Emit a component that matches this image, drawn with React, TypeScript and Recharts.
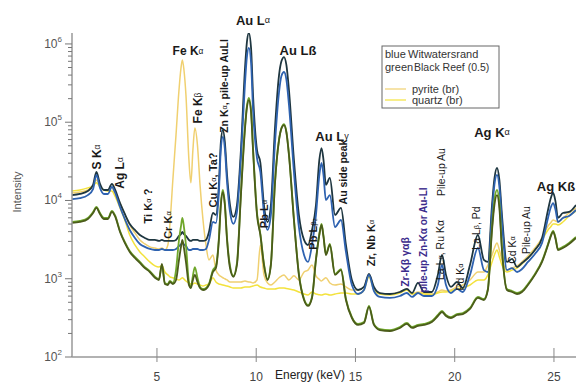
import { LineChart, Line, XAxis, YAxis } from 'recharts'

// energy (keV) sampled by hand along the spectra
const energy = [
  0.72, 1.12, 1.52, 1.78, 1.95, 2.13, 2.33, 2.53, 2.73, 2.88,
  3.14, 3.38, 3.63, 3.89, 4.14, 4.39, 4.64, 4.9, 5.1, 5.25,
  5.4, 5.55, 5.65, 5.8, 5.96, 6.11, 6.21, 6.28, 6.36, 6.46,
  6.61, 6.71, 6.81, 6.91, 7.04, 7.17, 7.32, 7.47, 7.62, 7.82,
  7.97, 8.12, 8.22, 8.32, 8.42, 8.53, 8.68, 8.85, 9.03, 9.23,
  9.43, 9.53, 9.63, 9.74, 9.84, 10.04, 10.21, 10.39, 10.57, 10.74,
  10.94, 11.15, 11.27, 11.4, 11.52, 11.65, 11.9, 12.15, 12.41, 12.61,
  12.81, 13.01, 13.18, 13.29, 13.39, 13.51, 13.71, 13.97, 14.27, 14.52,
  14.82, 15.13, 15.43, 15.68, 15.93, 16.23, 16.74, 17.24, 17.59, 17.85,
  18.15, 18.45, 18.85, 19.15, 19.36, 19.56, 19.81, 20.11, 20.41, 20.77,
  21.17, 21.47, 21.67, 21.88, 22.0, 22.13, 22.25, 22.38, 22.63, 22.89,
  23.14, 23.39, 23.69, 24.04, 24.4, 24.7, 24.83, 24.96, 25.08, 25.2,
  25.45, 25.76, 26.11,
]

// Witwatersrand (dark trace)
const witsDark = [
  11700, 12100, 13200, 15800, 23100, 16300, 13600, 13600, 16300, 14000,
  9250, 6720, 5010, 4200, 3620, 3320, 3130, 3130, 3040, 3130,
  3040, 3040, 3040, 3040, 3130, 3520, 3700, 3960, 3700, 3520,
  3130, 3040, 3130, 3130, 3130, 3040, 3040, 3130, 3960, 6920,
  6530, 15800, 56000, 79600, 56000, 21200, 8750, 6160, 8750, 44000,
  465000, 1050000, 1380000, 890000, 223000, 44000, 30200, 8750, 5310, 8750,
  79600, 400000, 600000, 680000, 540000, 258000, 33000, 6530, 3130, 2700,
  4200, 8750, 33000, 46700, 33000, 15800, 19400, 6530, 8020, 2700,
  964, 718, 785, 1150, 785, 657, 638, 677, 740, 657,
  883, 677, 677, 1120, 2010, 1120, 785, 909, 762, 1500,
  3620, 1740, 1640, 8750, 19000, 26000, 18300, 6530, 1640, 1790,
  1410, 1590, 1840, 2330, 3320, 7560, 10500, 12500, 9600, 5980,
  6920, 7130, 8750,
]

// Witwatersrand (blue trace)
const witsBlue = [
  10400, 10700, 11700, 14000, 21200, 14500, 12100, 12100, 14900, 12800,
  8250, 5800, 4200, 3320, 2780, 2550, 2400, 2330, 2330, 2400,
  2330, 2330, 2330, 2330, 2400, 2620, 2750, 2870, 2750, 2620,
  2330, 2330, 2400, 2400, 2400, 2330, 2330, 2400, 3130, 5310,
  5160, 12800, 46000, 65100, 46000, 17300, 7130, 5010, 7130, 34800,
  299000, 680000, 889000, 580000, 143000, 34800, 23100, 6920, 4200, 6530,
  51000, 243000, 390000, 438000, 350000, 166000, 23100, 4580, 2010, 1640,
  2700, 6530, 21000, 30200, 21000, 10100, 11700, 4580, 5630, 2200,
  832, 638, 718, 1120, 697, 585, 568, 602, 657, 585,
  657, 602, 602, 832, 1500, 832, 657, 740, 677, 1120,
  2470, 1290, 1220, 7130, 15800, 21200, 14900, 5310, 1290, 1370,
  1220, 1330, 1640, 2070, 2870, 5980, 8000, 9250, 7560, 5310,
  5980, 6340, 7560,
]

// Black Reef (0.5), dark olive trace
const reefOlive = [
  5160, 5310, 5800, 6920, 8020, 6720, 5800, 5800, 7130, 6340,
  3960, 2870, 2200, 1840, 1590, 1370, 1220, 1030, 964, 1550,
  857, 832, 909, 857, 964, 1740, 2550, 3130, 2470, 1640,
  832, 762, 964, 1120, 909, 762, 718, 740, 832, 1220,
  1370, 3130, 8750, 12800, 8750, 3130, 1370, 1060, 1500, 11700,
  79600, 152000, 192000, 134000, 44000, 6530, 3620, 1500, 964, 1500,
  15800, 59000, 83000, 92000, 74000, 38000, 5630, 1120, 535, 449,
  568, 1740, 3620, 4860, 3420, 2010, 2700, 1120, 1290, 535,
  315, 257, 272, 436, 257, 221, 215, 235, 265, 235,
  250, 257, 280, 334, 376, 334, 315, 344, 354, 411,
  568, 535, 718, 4200, 8750, 11700, 8000, 2330, 718, 677,
  638, 677, 832, 1120, 1640, 2700, 3420, 3960, 3220, 2330,
  2470, 2780, 3320,
]

// Black Reef (0.5), bright green trace
const reefGreen = [
  5310, 5470, 5980, 7130, 8250, 6920, 5980, 5980, 7340, 6530,
  4080, 2950, 2260, 1900, 1640, 1410, 1250, 1060, 990, 1500,
  883, 857, 936, 883, 1290, 3130, 4700, 5980, 4580, 2700,
  909, 785, 1090, 1410, 1030, 785, 740, 762, 857, 1290,
  1460, 3320, 9250, 13600, 9250, 3320, 1460, 1090, 1590, 12500,
  84300, 160000, 204000, 143000, 46700, 6920, 3730, 1550, 990, 1550,
  16300, 60800, 84000, 94800, 76000, 39100, 5800, 1150, 551, 462,
  585, 1790, 3730, 5010, 3520, 2070, 2780, 1150, 1330, 551,
  324, 265, 280, 449, 265, 227, 221, 242, 272, 242,
  257, 265, 288, 344, 387, 344, 324, 354, 365, 423,
  585, 551, 740, 4580, 10100, 13600, 9250, 2470, 740, 697,
  657, 697, 857, 1150, 1690, 2780, 3520, 4080, 3320, 2400,
  2550, 2870, 3420,
]

const pyrite = [
  12500, 12800, 13600, 15300, 18300, 15300, 13600, 13600, 14500, 12500,
  9250, 6720, 4860, 3850, 3130, 2780, 2550, 2470, 2400, 2470,
  2330, 2700, 4860, 18300, 69000, 258000, 490000, 625000, 465000, 223000,
  33000, 16800, 44000, 84300, 51000, 15800, 5630, 2700, 1740, 2010,
  1290, 1120, 1070, 1030, 1000, 964, 909, 909, 909, 909,
  936, 920, 909, 900, 883, 964, 2700, 1120, 883, 832,
  909, 1030, 1080, 1120, 1040, 964, 1090, 964, 1220, 1290,
  1500, 1090, 980, 936, 980, 1030, 883, 832, 857, 785,
  718, 718, 785, 1120, 762, 638, 638, 677, 740, 638,
  677, 657, 638, 677, 718, 697, 718, 785, 832, 964,
  1220, 1220, 1500, 2010, 2470, 2870, 2330, 1740, 1290, 1370,
  1460, 1640, 1950, 2470, 3320, 4720, 5160, 5630, 5470, 5310,
  5980, 6920, 8020,
]

const quartz = [
  13200, 13600, 14500, 15300, 16800, 14900, 13600, 13200, 13200, 11400,
  8020, 5630, 3620, 2700, 2200, 1900, 1640, 1460, 1410, 1460,
  1220, 1120, 1060, 1030, 990, 964, 1000, 1030, 990, 936,
  883, 857, 857, 883, 857, 832, 808, 832, 857, 1030,
  909, 857, 845, 832, 820, 808, 785, 762, 762, 762,
  785, 785, 785, 795, 808, 832, 785, 762, 740, 740,
  740, 762, 762, 762, 750, 740, 718, 677, 638, 620,
  677, 638, 625, 620, 630, 638, 620, 638, 657, 657,
  638, 638, 718, 1060, 718, 638, 620, 657, 718, 638,
  657, 638, 620, 657, 677, 677, 697, 740, 762, 832,
  964, 964, 1120, 1640, 2010, 2330, 1900, 1500, 1220, 1290,
  1370, 1550, 1840, 2330, 3130, 4200, 4580, 5010, 5010, 4860,
  5310, 6340, 7340,
]

const xTicks = [5, 10, 15, 20, 25]
const decades = [2, 3, 4, 5]
const yTicks = decades
  .flatMap((p) => [1, 2, 3, 4, 5, 6, 7, 8, 9].map((m) => m * 10 ** p))
  .concat([1000000])

const data = energy.map((e, i) => ({
  e,
  dark: witsDark[i],
  blue: witsBlue[i],
  olive: reefOlive[i],
  green: reefGreen[i],
  pyrite: pyrite[i],
  quartz: quartz[i],
}))

const FONT = 'Arial, "Liberation Sans", Helvetica, sans-serif'

type Note = {
  x: number
  y: number
  pre: string
  sub?: string
  post?: string
  size?: number
  bold?: boolean
  rot?: boolean
  color?: string
}

// peak annotations (label centres)
const notes: Note[] = [
  { x: 97, y: 157, pre: 'S K', sub: 'α', bold: true, rot: true, size: 12 },
  { x: 120, y: 173, pre: 'Ag L', sub: 'α', bold: true, rot: true, size: 12 },
  { x: 148, y: 206, pre: 'Ti K', sub: 'α', post: ' ?', bold: true, rot: true, size: 11 },
  { x: 168, y: 225, pre: 'Cr K', sub: 'α', bold: true, rot: true, size: 11 },
  { x: 188, y: 51, pre: 'Fe K', sub: 'α', bold: true, size: 12 },
  { x: 198, y: 108, pre: 'Fe K', sub: 'β', bold: true, rot: true, size: 12 },
  { x: 213, y: 180, pre: 'Cu K', sub: 'α', post: ', Ta?', bold: true, rot: true, size: 11 },
  { x: 224, y: 86, pre: 'Zn K', sub: 'α', post: ', pile-up AuLl', bold: true, rot: true, size: 10.5 },
  { x: 253, y: 20, pre: 'Au L', sub: 'α', bold: true, size: 13 },
  { x: 298, y: 50, pre: 'Au Lß', bold: true, size: 13 },
  { x: 264, y: 214, pre: 'Pb L', sub: 'α', bold: true, rot: true, size: 11 },
  { x: 332, y: 136, pre: 'Au L', sub: 'γ', bold: true, size: 13 },
  { x: 313, y: 234, pre: 'Pb L', sub: 'β₂', bold: true, rot: true, size: 11 },
  { x: 343, y: 172, pre: 'Au side peak', rot: true, size: 10.5, bold: true },
  { x: 371, y: 243, pre: 'Zr, Nb K', sub: 'α', bold: true, rot: true, size: 11 },
  { x: 405, y: 262, pre: 'Zr-Kβ γαβ', rot: true, size: 10.5, color: '#3b2b8c', bold: true },
  { x: 423, y: 240, pre: 'pile-up Zn-Kα or Au-Ll', rot: true, size: 10, color: '#3b2b8c', bold: true },
  { x: 441, y: 172, pre: 'Pile-up Au', rot: true, size: 10.5 },
  { x: 440, y: 250, pre: 'La L', sub: 'α', post: ', Ru Kα', rot: true, size: 10.5 },
  { x: 460, y: 277, pre: 'Pd K', sub: 'α', rot: true, size: 10.5 },
  { x: 476, y: 228, pre: 'La L', sub: 'β', post: ', Pd', rot: true, size: 10.5 },
  { x: 492, y: 132, pre: 'Ag K', sub: 'α', bold: true, size: 13 },
  { x: 512, y: 250, pre: 'Cd K', sub: 'α', rot: true, size: 10.5 },
  { x: 526, y: 230, pre: 'Pile-up Au', rot: true, size: 10.5 },
  { x: 556, y: 186, pre: 'Ag Kß', bold: true, size: 13 },
]

function NoteText({ n }: { n: Note }) {
  const size = n.size ?? 11
  return (
    <text
      x={n.x}
      y={n.y}
      textAnchor="middle"
      dominantBaseline="central"
      transform={n.rot ? `rotate(-90 ${n.x} ${n.y})` : undefined}
      fontFamily={FONT}
      fontSize={size}
      fontWeight={n.bold ? 700 : 400}
      fill={n.color ?? '#1a1a1a'}
    >
      {n.pre}
      {n.sub && (
        <tspan fontSize={size * 0.7} fontWeight={400}>
          {n.sub}
        </tspan>
      )}
      {n.post}
    </text>
  )
}

function YTick(props: any) {
  const { x, y, payload } = props
  const v = payload.value as number
  const p = Math.round(Math.log10(v))
  const major = Math.abs(10 ** p - v) < 1e-6
  return (
    <g>
      <line x1={x - (major ? 7 : 4)} x2={x} y1={y} y2={y} stroke="#777" strokeWidth={1} />
      {major && (
        <text x={x - 10} y={y + 4} textAnchor="end" fontFamily={FONT} fontSize={12} fill="#555">
          10
          <tspan dy={-6} fontSize={8}>
            {p}
          </tspan>
        </text>
      )}
    </g>
  )
}

function XTick(props: any) {
  const { x, y, payload } = props
  return (
    <g>
      <line x1={x} x2={x} y1={y - 9} y2={y + 5} stroke="#888" strokeWidth={1} />
      <text x={x} y={y + 24} textAnchor="middle" fontFamily={FONT} fontSize={12} fill="#444">
        {payload.value}
      </text>
    </g>
  )
}

export default function App() {
  return (
    <div
      style={{
        position: 'absolute',
        left: 0,
        top: 0,
        width: 576,
        height: 383,
        overflow: 'hidden',
        background: '#fff',
      }}
    >
      <LineChart
        width={576}
        height={383}
        data={data}
        margin={{ top: 33, right: 0, bottom: 0, left: 0 }}
      >
        <XAxis
          dataKey="e"
          type="number"
          domain={[0.72, 26.11]}
          allowDataOverflow
          ticks={xTicks}
          tick={<XTick />}
          tickLine={false}
          tickSize={0}
          tickMargin={0}
          height={26}
          axisLine={{ stroke: '#999', strokeWidth: 1.5 }}
        />
        <YAxis
          type="number"
          scale="log"
          domain={[100, 1380000]}
          allowDataOverflow
          ticks={yTicks}
          tick={<YTick />}
          tickLine={false}
          tickSize={0}
          tickMargin={0}
          width={72}
          interval={0}
          axisLine={{ stroke: '#999', strokeWidth: 1.5 }}
        />
        <Line dataKey="pyrite" type="monotone" stroke="#f0d070" strokeWidth={1.5} dot={false} isAnimationActive={false} />
        <Line dataKey="quartz" type="monotone" stroke="#f3e23c" strokeWidth={1.5} dot={false} isAnimationActive={false} />
        <Line dataKey="dark" type="monotone" stroke="#1e3640" strokeWidth={1.8} dot={false} isAnimationActive={false} />
        <Line dataKey="blue" type="monotone" stroke="#2e62b0" strokeWidth={1.8} dot={false} isAnimationActive={false} />
        <Line dataKey="green" type="monotone" stroke="#6fa72b" strokeWidth={1.8} dot={false} isAnimationActive={false} />
        <Line dataKey="olive" type="monotone" stroke="#4b5c1a" strokeWidth={1.8} dot={false} isAnimationActive={false} />
      </LineChart>
      <svg
        width={576}
        height={383}
        style={{ position: 'absolute', left: 0, top: 0, pointerEvents: 'none' }}
      >
        <text
          x={17}
          y={192}
          transform="rotate(-90 17 192)"
          textAnchor="middle"
          dominantBaseline="central"
          fontFamily={FONT}
          fontSize={11}
          fill="#555"
        >
          Intensity
        </text>
        <text x={310} y={379} textAnchor="middle" fontFamily={FONT} fontSize={12} fill="#222">
          Energy (keV)
        </text>
        {notes.map((n, i) => (
          <NoteText key={i} n={n} />
        ))}
        <g fontFamily={FONT} fontSize={11} fill="#333">
          <rect x={382} y={46} width={117} height={62} fill="#fff" stroke="#666" strokeWidth={1} />
          <text x={385} y={58}>blue</text>
          <text x={408} y={58}>Witwatersrand</text>
          <text x={385} y={71}>green</text>
          <text x={414} y={71} fontSize={10.5}>Black Reef (0.5)</text>
          <line x1={385} x2={406} y1={89} y2={89} stroke="#f0d070" strokeWidth={1.2} />
          <text x={412} y={93}>pyrite (br)</text>
          <line x1={385} x2={406} y1={100} y2={100} stroke="#f3e23c" strokeWidth={1.2} />
          <text x={412} y={104}>quartz (br)</text>
        </g>
      </svg>
    </div>
  )
}
